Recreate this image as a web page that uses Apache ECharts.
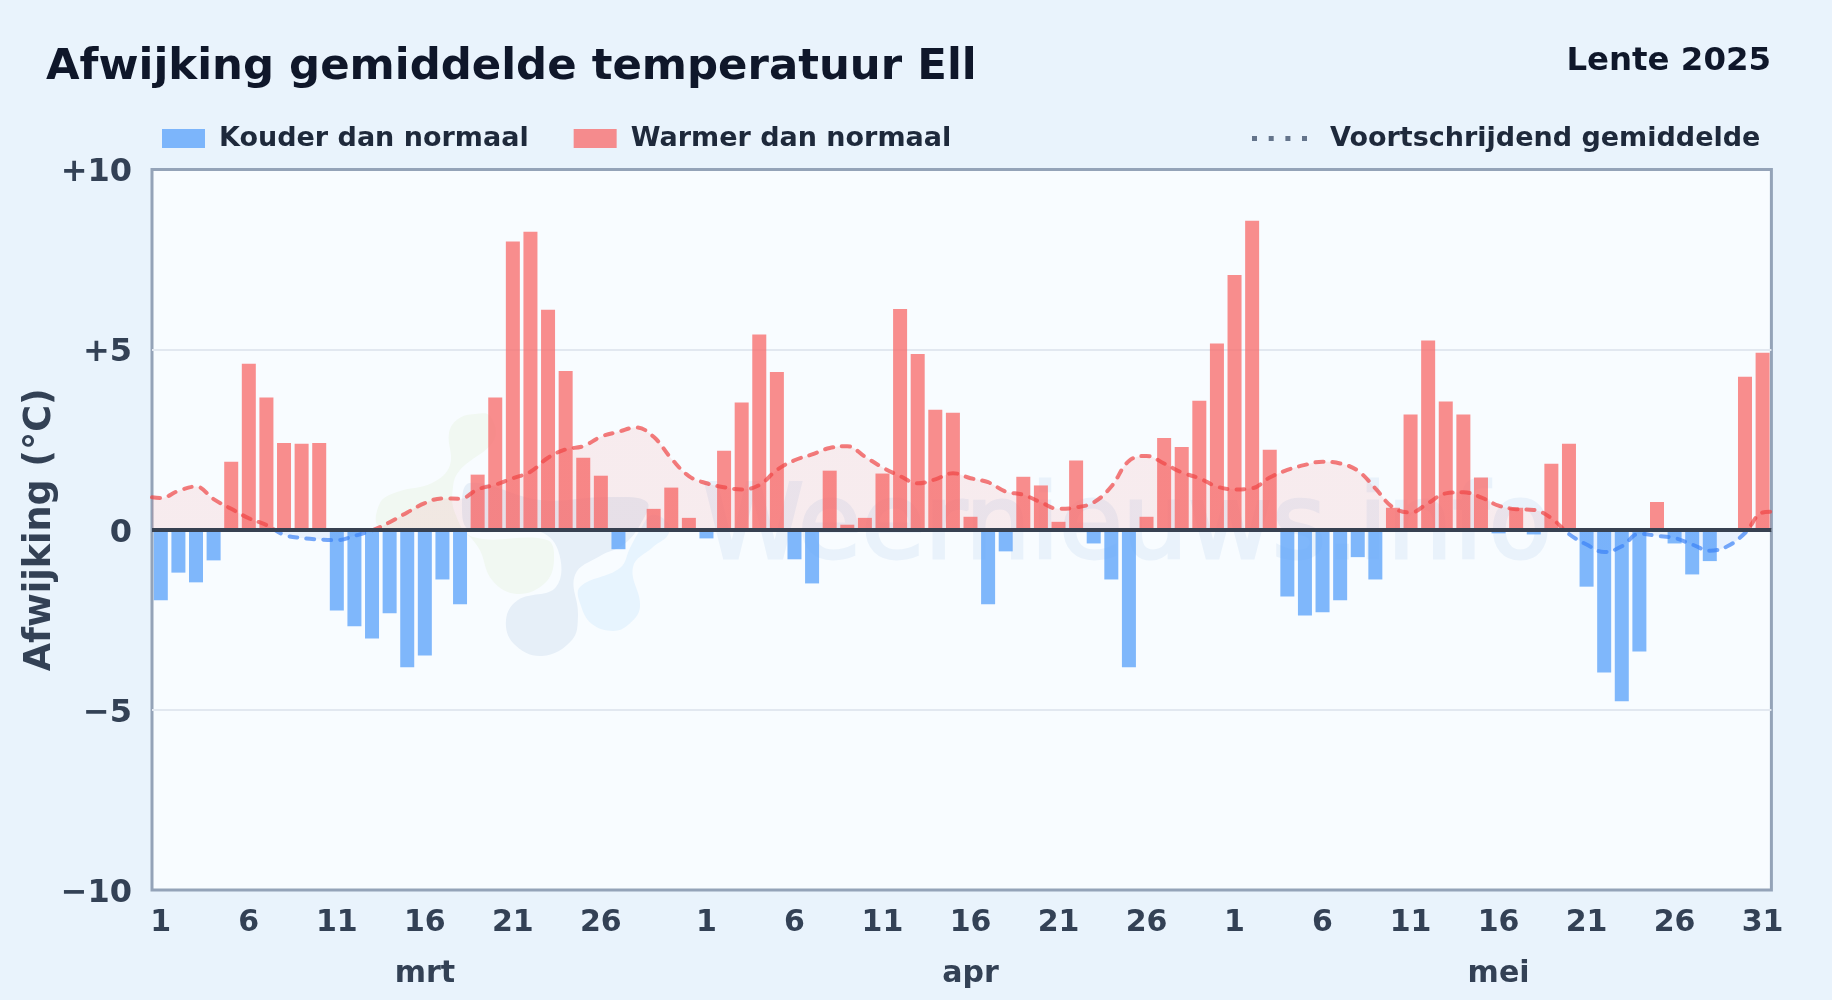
<!DOCTYPE html>
<html>
<head>
<meta charset="utf-8">
<style>html,body{margin:0;padding:0;background:#e9f3fc}#c{width:1832px;height:1000px}</style>
<script src="https://cdn.jsdelivr.net/npm/echarts@6/dist/echarts.min.js"></script>
</head>
<body>
<div id="c"></div>
<script>
const monthLengths = [31, 30, 31];
const monthNames = ['mrt', 'apr', 'mei'];
const yTickLabels = {'10': '+10', '5': '+5', '0': '0', '-5': '−5', '-10': '−10'};

const marchDeviation = [-1.96,-1.19,-1.46,-0.85,1.89,4.61,3.67,2.41,2.39,2.41,-2.24,-2.68,-3.02,-2.32,-3.82,-3.49,-1.38,-2.07,1.53,3.67,8.00,8.27,6.11,4.41,2.00,1.50,-0.54,0,0.58,1.17,0.33];
const aprilDeviation = [-0.24,2.19,3.53,5.42,4.38,-0.82,-1.49,1.64,0.14,0.33,1.56,6.13,4.88,3.33,3.25,0.36,-2.07,-0.60,1.47,1.23,0.22,1.92,-0.38,-1.38,-3.82,0.36,2.55,2.30,3.58,5.17];
const mayDeviation = [7.07,8.58,2.22,-1.85,-2.38,-2.29,-1.96,-0.76,-1.38,0.61,3.20,5.25,3.56,3.20,1.45,-0.10,0.61,-0.13,1.83,2.39,-1.58,-3.96,-4.76,-3.38,0.77,-0.38,-1.24,-0.87,0,4.25,4.91];

const marchAverage = [0.88,1.08,1.20,0.85,0.58,0.32,0.13,-0.14,-0.23,-0.27,-0.29,-0.17,-0.02,0.21,0.48,0.74,0.87,0.86,1.12,1.25,1.43,1.61,2.00,2.23,2.32,2.58,2.72,2.84,2.58,1.98,1.49];
const aprilAverage = [1.29,1.18,1.12,1.24,1.66,1.93,2.09,2.27,2.32,2.03,1.73,1.49,1.29,1.40,1.57,1.43,1.32,1.06,0.97,0.76,0.58,0.62,0.76,1.20,1.91,2.05,1.84,1.59,1.43,1.20];
const mayAverage = [1.12,1.15,1.45,1.66,1.80,1.89,1.84,1.64,1.15,0.62,0.48,0.74,1.01,1.04,0.90,0.67,0.57,0.55,0.32,-0.12,-0.41,-0.62,-0.46,-0.11,-0.17,-0.23,-0.41,-0.58,-0.46,-0.09,0.48];
const averageAtLeftEdge = 0.90;
const averageAtRightEdge = 0.50;

const deviation = marchDeviation.concat(aprilDeviation, mayDeviation);
const average = marchAverage.concat(aprilAverage, mayAverage);
const categories = [];
const dayLabelIndex = {};
const monthLabelIndex = {};
monthLengths.forEach((len, m) => {
  for (let d = 1; d <= len; d++) {
    const idx = categories.length;
    categories.push(monthNames[m] + ' ' + d);
    if ((d - 1) % 5 === 0 && (d < 31 || m === 2)) dayLabelIndex[idx] = String(d);
    if (d === 16) monthLabelIndex[idx] = monthNames[m];
  }
});

const warm = deviation.map(v => v > 0 ? v : null);
const cold = deviation.map(v => v < 0 ? v : null);
const n = average.length;
const avgLine = [[-0.5, averageAtLeftEdge]].concat(average.map((v, i) => [i, v]), [[n - 0.5, averageAtRightEdge]]);

const font = 'DejaVu Sans';
const chart = echarts.init(document.getElementById('c'), null, {renderer: 'canvas'});
chart.setOption({
  animation: false,
  backgroundColor: '#e9f3fc',
  textStyle: {fontFamily: font},
  title: [
    {text: 'Afwijking gemiddelde temperatuur Ell', left: 46, top: 46, padding: 0,
     textStyle: {fontFamily: font, fontSize: 43.4, fontWeight: 'bold', color: '#0f172a'}},
    {text: 'Lente 2025', right: 61, top: 46, padding: 0,
     textStyle: {fontFamily: font, fontSize: 32.4, fontWeight: 'bold', color: '#0f172a'}}
  ],
  legend: [
    {left: 162, top: 125, padding: 0, itemGap: 45, itemWidth: 43, itemHeight: 19, icon: 'rect',
     data: ['Kouder dan normaal', 'Warmer dan normaal'],
     textStyle: {fontFamily: font, fontSize: 27, fontWeight: 'bold', color: '#1e293b', padding: [0, 0, 0, 9]}},
    {left: 1252, top: 125, padding: 0, itemWidth: 55, itemHeight: 5,
     data: [{name: 'Voortschrijdend gemiddelde',
             icon: 'path://M0 0h5v5H0z M16.7 0h5v5h-5z M33.4 0h5v5h-5z M50 0h5v5h-5z',
             itemStyle: {color: '#64748b', opacity: 1}}],
     textStyle: {fontFamily: font, fontSize: 27, fontWeight: 'bold', color: '#1e293b', padding: [0, 0, 0, 18]}}
  ],
  grid: {left: 152, top: 169.5, width: 1619.4, height: 720.5, show: true,
         backgroundColor: '#f8fcff', borderColor: '#94a3b8', borderWidth: 3, z: 0},
  xAxis: [
    {type: 'category', data: categories, axisLine: {show: false}, axisTick: {show: false}, splitLine: {show: false},
     axisLabel: {interval: (i) => dayLabelIndex[i] !== undefined, formatter: (v, i) => dayLabelIndex[i] || '',
                 margin: 18, fontFamily: font, fontSize: 30, fontWeight: 'bold', color: '#334155', hideOverlap: false}},
    {type: 'category', data: categories, position: 'bottom', axisLine: {show: false}, axisTick: {show: false},
     axisLabel: {interval: (i) => monthLabelIndex[i] !== undefined, formatter: (v, i) => monthLabelIndex[i] || '',
                 margin: 69, fontFamily: font, fontSize: 30, fontWeight: 'bold', color: '#334155', hideOverlap: false}},
    {type: 'value', min: -0.5, max: n - 0.5, show: false}
  ],
  yAxis: {type: 'value', min: -10, max: 10, interval: 5,
    name: 'Afwijking (°C)', nameLocation: 'middle', nameGap: 93, nameRotate: 90, nameMoveOverlap: false,
    nameTextStyle: {fontFamily: font, fontSize: 36.5, fontWeight: 'bold', color: '#334155'},
    axisLine: {show: false}, axisTick: {show: false},
    axisLabel: {margin: 20, verticalAlign: 'top', lineHeight: 7, fontFamily: font, fontSize: 32, fontWeight: 'bold', color: '#334155',
                formatter: (v) => yTickLabels[String(v)]},
    splitLine: {show: true, showMinLine: false, showMaxLine: false, lineStyle: {color: '#e2e8f0', width: 2}}},
  visualMap: {show: false, seriesIndex: 2, dimension: 1,
    pieces: [{min: -100, max: 0, color: '#3b82f6'}, {min: 0, max: 100, color: '#ef4444'}]},
  series: [
    {name: 'Kouder dan normaal', type: 'bar', xAxisIndex: 0, data: cold, barWidth: 14, barGap: '-100%',
     itemStyle: {color: '#60a5fa', opacity: 0.8}, z: 3},
    {name: 'Warmer dan normaal', type: 'bar', xAxisIndex: 0, data: warm, barWidth: 14, barGap: '-100%',
     itemStyle: {color: '#f87171', opacity: 0.8}, z: 3,
     markLine: {silent: true, symbol: 'none', animation: false, z: 6, label: {show: false},
                lineStyle: {color: '#374151', width: 4, type: 'solid', opacity: 1}, data: [{yAxis: 0}]}},
    {name: 'Voortschrijdend gemiddelde', type: 'line', xAxisIndex: 2, data: avgLine, smooth: 0.4,
     showSymbol: false, symbol: 'none', z: 4,
     lineStyle: {width: 4, type: [8, 9], cap: 'round', opacity: 0.7},
     areaStyle: {opacity: 0.09}}
  ],
  graphic: {elements: [
    {type: 'polygon', z: 1, silent: true, shape: {smooth: 0.4, points: [[449,433],[458,419],[475,414],[490,416],[494,440],[460,470],[453,487],[455,513],[473,537],[547,540],[554,560],[545,583],[517,594],[492,580],[478,547],[460,532],[380,527],[380,503],[397,492],[432,483],[450,465]]}, style: {fill: '#f1f8f2'}},
    {type: 'polygon', z: 1, silent: true, shape: {smooth: 0.4, points: [[470,483],[540,500],[610,497],[647,502],[640,525],[623,545],[600,556],[575,575],[578,615],[572,640],[542,656],[514,644],[506,620],[518,600],[556,587],[558,550],[537,531],[470,530],[462,507]]}, style: {fill: '#e6eff8'}},
    {type: 'polygon', z: 1, silent: true, shape: {smooth: 0.4, points: [[640,530],[652,515],[668,523],[668,535],[653,547],[633,567],[640,607],[628,625],[613,631],[592,624],[581,606],[580,587],[620,568],[630,548]]}, style: {fill: '#e7f4fe'}},
    {type: 'text', z: 1, silent: true, style: {text: 'Weernieuws.info', x: 1127, y: 583, align: 'center', verticalAlign: 'bottom',
      font: 'normal 103px "DejaVu Sans"', fill: '#e9f2fb', stroke: '#e9f2fb', lineWidth: 3}}
  ]}
});
</script>
</body>
</html>
